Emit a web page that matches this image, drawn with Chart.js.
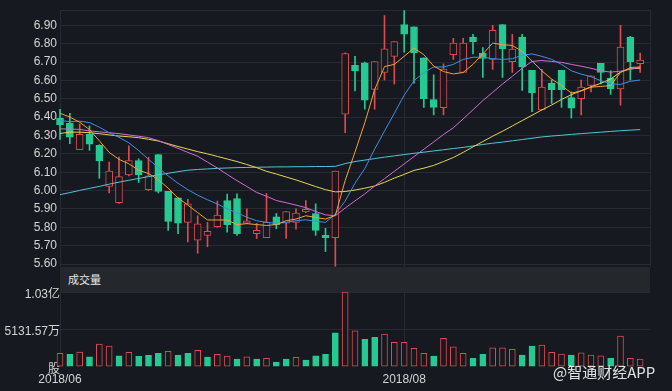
<!DOCTYPE html>
<html><head><meta charset="utf-8">
<script src="https://cdn.jsdelivr.net/npm/chart.js@4.4.1/dist/chart.umd.min.js"></script>
<style>
html,body{margin:0;padding:0;background:#161a20;width:672px;height:391px;overflow:hidden;}
#wrap{position:relative;width:672px;height:391px;}
canvas{position:absolute;left:0;top:0;}
#band{position:absolute;left:60px;top:267px;width:590px;height:25px;background:#24272c;color:#e8e8e8;font:11px "Noto Sans CJK SC",sans-serif;line-height:25px;padding-left:8px;box-sizing:border-box;}
#wm{position:absolute;left:553px;top:361px;font:15px "Noto Sans CJK SC",sans-serif;color:rgba(255,255,255,0.88);white-space:nowrap;}
</style></head>
<body><div id="wrap">
<div id="band">成交量</div>
<canvas id="pc" width="672" height="391"></canvas>
<canvas id="vc" width="672" height="391"></canvas>
<div id="wm">@智通财经APP</div>
</div>
<script>
// ---- data ----
const open  = [6.395,6.368,6.223,6.306,6.247,6.022,5.934,6.085,6.164,6.005,6.196,5.996,5.96,5.827,5.73,5.756,5.804,5.946,5.957,5.822,5.766,5.744,5.857,5.822,5.827,5.884,5.875,5.756,5.744,6.416,6.682,6.696,6.551,6.643,6.731,6.904,6.891,6.723,6.496,6.452,6.74,6.643,6.835,6.749,6.714,6.904,6.702,6.835,6.655,6.439,6.585,6.655,6.506,6.501,6.572,6.693,6.613,6.554,6.835,6.691];
const high  = [6.443,6.42,6.363,6.352,6.25,6.155,6.182,6.244,6.173,6.182,6.197,5.996,5.96,5.952,5.863,5.827,5.943,5.981,5.983,5.90,5.822,5.984,5.875,5.886,5.90,5.946,5.928,5.795,6.106,6.75,6.731,6.70,6.702,6.953,6.811,6.98,6.891,6.723,6.63,6.69,6.829,6.829,6.85,6.779,6.90,6.904,6.85,6.85,6.655,6.66,6.602,6.655,6.537,6.602,6.625,6.693,6.652,6.90,6.84,6.749];
const low   = [6.279,6.256,6.223,6.219,6.067,5.987,5.93,6.08,6.044,6.0,5.987,5.783,5.765,5.721,5.659,5.694,5.80,5.774,5.756,5.82,5.739,5.744,5.792,5.739,5.79,5.88,5.756,5.668,5.588,6.315,6.542,6.443,6.443,6.602,6.58,6.753,6.585,6.453,6.412,6.412,6.714,6.643,6.744,6.616,6.66,6.616,6.643,6.545,6.43,6.439,6.474,6.453,6.395,6.412,6.537,6.58,6.524,6.465,6.602,6.643];
const close = [6.359,6.291,6.306,6.253,6.161,6.106,6.076,6.164,6.085,6.081,5.996,5.832,5.822,5.928,5.819,5.778,5.866,5.815,5.765,5.836,5.783,5.827,5.815,5.886,5.877,5.898,5.783,5.744,6.106,6.746,6.652,6.492,6.702,6.772,6.811,6.851,6.749,6.501,6.453,6.661,6.803,6.803,6.811,6.719,6.873,6.771,6.771,6.673,6.531,6.563,6.549,6.549,6.448,6.563,6.625,6.643,6.554,6.781,6.702,6.71];
const ma5  = [6.421,6.40,6.372,6.332,6.271,6.208,6.17,6.146,6.111,6.093,6.06,6.013,5.96,5.921,5.88,5.84,5.84,5.84,5.815,5.82,5.815,5.81,5.815,5.836,5.845,5.863,5.854,5.845,5.865,6.055,6.21,6.37,6.55,6.675,6.687,6.731,6.776,6.74,6.678,6.648,6.635,6.643,6.687,6.744,6.803,6.794,6.79,6.758,6.705,6.652,6.607,6.572,6.531,6.542,6.563,6.567,6.572,6.643,6.67,6.673];
const ma10 = [6.382,6.375,6.378,6.37,6.345,6.315,6.29,6.26,6.218,6.17,6.125,6.08,6.04,6.005,5.975,5.95,5.927,5.90,5.879,5.855,5.836,5.827,5.822,5.827,5.836,5.841,5.833,5.827,5.872,5.943,6.04,6.12,6.226,6.324,6.421,6.519,6.598,6.643,6.673,6.673,6.687,6.714,6.726,6.726,6.718,6.714,6.718,6.737,6.744,6.731,6.714,6.687,6.652,6.634,6.62,6.598,6.581,6.578,6.595,6.602];
const ma20 = [6.336,6.335,6.333,6.325,6.32,6.315,6.31,6.303,6.296,6.288,6.272,6.251,6.23,6.208,6.187,6.155,6.123,6.088,6.054,6.022,5.99,5.969,5.946,5.934,5.921,5.907,5.886,5.868,5.863,5.905,5.944,5.982,6.025,6.065,6.105,6.145,6.185,6.225,6.265,6.305,6.342,6.39,6.44,6.49,6.535,6.58,6.622,6.666,6.703,6.708,6.703,6.698,6.687,6.677,6.666,6.652,6.645,6.65,6.661,6.67];
const ma30 = [6.311,6.318,6.318,6.315,6.31,6.303,6.297,6.293,6.288,6.279,6.27,6.255,6.24,6.226,6.212,6.20,6.186,6.172,6.158,6.142,6.125,6.105,6.09,6.074,6.058,6.04,6.022,6.005,5.993,5.995,6.003,6.013,6.025,6.045,6.068,6.088,6.11,6.122,6.137,6.158,6.18,6.208,6.238,6.267,6.296,6.323,6.352,6.381,6.41,6.439,6.466,6.496,6.522,6.544,6.565,6.584,6.607,6.645,6.663,6.666];
const ma60 = [5.978,5.989,6.001,6.012,6.023,6.035,6.046,6.056,6.066,6.076,6.086,6.094,6.103,6.111,6.115,6.118,6.121,6.123,6.125,6.126,6.127,6.128,6.129,6.129,6.13,6.13,6.131,6.131,6.132,6.147,6.158,6.166,6.174,6.182,6.189,6.196,6.203,6.209,6.216,6.222,6.229,6.235,6.243,6.251,6.258,6.264,6.271,6.278,6.285,6.292,6.297,6.301,6.306,6.31,6.314,6.318,6.322,6.326,6.329,6.332];
// volume in 万股
const volume = [1834,1697,2012,1368,3106,2833,1505,1970,1423,1560,1834,2107,1601,1834,2244,1327,1697,1464,1054,1368,1054,1149,643,1054,1286,917,1505,1697,4653,10263,4926,3749,4023,4475,3339,3339,2518,1834,1464,3886,2737,1834,1149,1697,2600,2600,2381,1601,2833,2969,1970,1738,1601,1916,1601,1505,1149,4201,1149,1054];
// 1 = red (hollow) volume bar, 0 = green
const volUp = [1,0,1,0,1,1,0,1,0,0,0,1,0,0,1,0,1,1,0,1,0,1,0,0,1,0,0,0,0,1,1,0,0,1,1,1,1,1,0,1,1,1,0,0,1,1,1,0,0,1,1,1,0,1,1,1,0,1,1,1];
const priceTickValues = [5.6,5.7,5.8,5.9,6.0,6.1,6.2,6.3,6.4,6.5,6.6,6.7,6.8,6.9];
const priceTickText = ['5.60','5.70','5.80','5.90','6.00','6.10','6.20','6.30','6.40','6.50','6.60','6.70','6.80','6.90'];
const volMax = 10263.14;
const volTickValues = [0, 5131.57, 10263.14];
const volTickText = ['股','5131.57万','1.03亿'];
const xTickIndex = [0, 35];
const xTickText = ['2018/06','2018/08'];

// ---- drawing ----
const N = open.length;
const categories = Array.from({length: N + 1}, (_, i) => 'D' + (i + 1));
const RED = '#db4a4e', GREEN = '#27c992', BG = '#161a20', GRID = '#262b33', TXT = '#d4d4d4';
Chart.defaults.font.family = '"Liberation Sans", Arial, "Noto Sans CJK SC", sans-serif';
Chart.defaults.font.size = 12;
const up = close.map((c, i) => c >= open[i]);
const wickData = high.map((h, i) => [low[i], h]);
const bodyData = open.map((o, i) => [Math.min(o, close[i]), Math.max(o, close[i])]);
function ma(data, color, order) {
  return {type: 'line', data, borderColor: color, borderWidth: 1, pointRadius: 0, tension: 0, order, fill: false};
}
new Chart(document.getElementById('pc'), {
  type: 'bar',
  data: {labels: categories, datasets: [
    ma(ma5, '#f2a13b', 0),
    ma(ma10, '#3f8fe3', 1),
    ma(ma20, '#d26bd4', 2),
    ma(ma30, '#e6d452', 3),
    ma(ma60, '#55c3d8', 4),
    {data: bodyData, backgroundColor: up.map(u => u ? BG : GREEN), borderColor: up.map(u => u ? RED : GREEN),
     borderWidth: 1, borderSkipped: false, barThickness: 7, grouped: false, order: 5, clip: false},
    {data: wickData, backgroundColor: up.map(u => u ? RED : GREEN), borderWidth: 0, barThickness: 1,
     grouped: false, order: 6, clip: false}
  ]},
  options: {
    responsive: false, animation: false, devicePixelRatio: 1,
    layout: {padding: {left: 0, top: 5, right: 22, bottom: 124}},
    plugins: {legend: {display: false}, tooltip: {enabled: false}},
    scales: {
      x: {type: 'category', offset: false,
          grid: {offset: false, drawTicks: false, color: c => (c.index === 0 || c.index === 35 || c.index === N) ? GRID : 'rgba(0,0,0,0)'},
          border: {display: false}, ticks: {display: false, autoSkip: false},
          afterFit: s => { s.height = 0; }},
      y: {min: 5.584, max: 6.982,
          afterBuildTicks: s => { s.ticks = priceTickValues.concat([6.982]).map(v => ({value: v})); },
          ticks: {padding: 3, color: TXT, callback: (v, i) => priceTickText[i] || ''},
          grid: {drawTicks: false, color: GRID}, border: {display: false},
          afterFit: s => { s.width = 60; }}
    }
  }
});
new Chart(document.getElementById('vc'), {
  type: 'bar',
  data: {labels: categories, datasets: [
    {data: volume, backgroundColor: volUp.map(u => u ? BG : GREEN), borderColor: volUp.map(u => u ? RED : GREEN),
     borderWidth: 1, borderSkipped: false, barThickness: 6, clip: false}
  ]},
  options: {
    responsive: false, animation: false, devicePixelRatio: 1,
    layout: {padding: {left: 0, top: 292, right: 22, bottom: 0}},
    plugins: {legend: {display: false}, tooltip: {enabled: false}},
    scales: {
      x: {type: 'category', offset: false,
          grid: {offset: false, drawTicks: false, color: c => (c.index === 0 || c.index === 35) ? GRID : 'rgba(0,0,0,0)'},
          border: {display: false},
          ticks: {autoSkip: false, maxRotation: 0, padding: 6, color: TXT,
                  callback: (v, i) => { const k = xTickIndex.indexOf(i); return k >= 0 ? xTickText[k] : ''; }},
          afterFit: s => { s.height = 24.3; }},
      y: {min: 0, max: volMax,
          afterBuildTicks: s => { s.ticks = volTickValues.map(v => ({value: v})); },
          ticks: {padding: 0, labelOffset: 2.5, color: TXT, callback: (v, i) => volTickText[i]},
          grid: {drawTicks: false, color: c => c.index === 0 ? 'rgba(0,0,0,0)' : GRID}, border: {display: false},
          afterFit: s => { s.width = 60; }}
    }
  }
});
</script>
</body></html>
